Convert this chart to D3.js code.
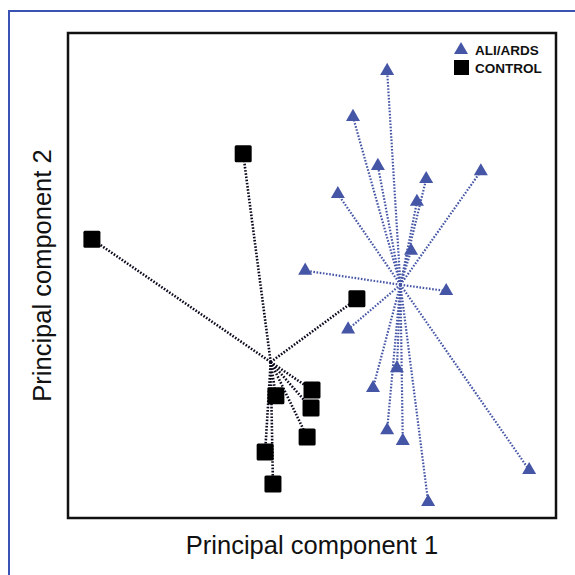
<!DOCTYPE html>
<html lang="en">
<head>
    <meta charset="UTF-8">
    <script src="https://d3js.org/d3.v7.min.js"></script>
    <title>PCA scores</title>
    <style>
        body { margin: 0; background: #fff; }
        svg { display: block; }
    </style>
</head>
<body>
    <figure style="margin:0"></figure>
    <script>
        // scores (arbitrary PC units, no ticks shown)
        const aliPc1 = [65.4, 58.4, 63.5, 73.4, 71.5, 84.6, 55.3, 70.3, 48.6, 77.5, 57.4, 67.4, 62.5, 65.4, 68.6, 94.5, 73.8];
        const aliPc2 = [92.2, 82.7, 72.6, 69.9, 65.2, 71.5, 66.8, 55.1, 51.0, 46.8, 38.9, 30.9, 26.8, 18.1, 15.9, 9.9, 3.3];
        const ctrlPc1 = [35.9, 4.9, 59.2, 50.0, 42.6, 49.8, 49.0, 40.4, 42.0];
        const ctrlPc2 = [75.1, 57.5, 45.2, 26.4, 25.2, 22.7, 16.7, 13.6, 7.0];
        const groups = ["ALI/ARDS", "CONTROL"];

        const w = 575;
        const h = 575;
        const box = {left: 68, top: 33, right: 556, bottom: 518};
        const blue = "#4656a6";
        const dark = "#0a0a1e";

        const svg = d3.select("figure")
            .append("svg")
            .attr("width", w)
            .attr("height", h);

        // outer blue frame
        svg.append("rect")
            .attr("x", 9).attr("y", 11)
            .attr("width", 600).attr("height", 600)
            .attr("fill", "none")
            .attr("stroke", "#3a52b4")
            .attr("stroke-width", 2);

        const xScale = d3.scaleLinear().domain([0, 100]).range([box.left, box.right]);
        const yScale = d3.scaleLinear().domain([0, 100]).range([box.bottom, box.top]);

        const ali = aliPc1.map((d, i) => [d, aliPc2[i]]);
        const ctrl = ctrlPc1.map((d, i) => [d, ctrlPc2[i]]);

        const aliC = [d3.mean(aliPc1), d3.mean(aliPc2)];
        const ctrlC = [d3.mean(ctrlPc1), d3.mean(ctrlPc2)];

        // spokes to group centroid
        function spokes(data, c, color, cls, width) {
            svg.selectAll("line." + cls)
                .data(data)
                .enter()
                .append("line")
                .attr("class", cls)
                .attr("x1", xScale(c[0]))
                .attr("y1", yScale(c[1]))
                .attr("x2", d => xScale(d[0]))
                .attr("y2", d => yScale(d[1]))
                .attr("stroke", color)
                .attr("stroke-width", width)
                .attr("stroke-dasharray", "1.6,1.6");
        }
        spokes(ali, aliC, blue, "ali", 2.2);
        spokes(ctrl, ctrlC, dark, "ctrl", 2.6);

        const tri = d3.symbol().type(d3.symbolTriangle).size(85);

        svg.selectAll("path.tri")
            .data(ali)
            .enter()
            .append("path")
            .attr("class", "tri")
            .attr("d", tri)
            .attr("transform", d => "translate(" + xScale(d[0]) + "," + yScale(d[1]) + ")")
            .attr("fill", blue);

        svg.selectAll("rect.sq")
            .data(ctrl)
            .enter()
            .append("rect")
            .attr("class", "sq")
            .attr("x", d => xScale(d[0]) - 8.5)
            .attr("y", d => yScale(d[1]) - 8.5)
            .attr("width", 17)
            .attr("height", 17)
            .attr("rx", 1.5)
            .attr("fill", "#000");

        // plot frame
        svg.append("rect")
            .attr("x", box.left).attr("y", box.top)
            .attr("width", box.right - box.left)
            .attr("height", box.bottom - box.top)
            .attr("fill", "none")
            .attr("stroke", "#111")
            .attr("stroke-width", 2.5);

        // legend
        const legend = svg.append("g").attr("transform", "translate(461,50)");
        legend.append("path")
            .attr("d", tri)
            .attr("fill", blue);
        legend.append("rect")
            .attr("x", -7).attr("y", 10)
            .attr("width", 15).attr("height", 15)
            .attr("fill", "#000");
        legend.selectAll("text")
            .data(groups)
            .enter()
            .append("text")
            .attr("x", 14)
            .attr("y", (d, i) => 5 + i * 18)
            .attr("font-family", "'Liberation Sans Narrow', 'Arial Narrow', sans-serif")
            .attr("font-weight", "bold")
            .attr("font-size", 13.5)
            .attr("fill", "#111")
            .text(d => d);

        // axis titles
        svg.append("text")
            .attr("x", (box.left + box.right) / 2)
            .attr("y", 554)
            .attr("text-anchor", "middle")
            .attr("font-family", "'Liberation Sans', Arial, sans-serif")
            .attr("font-size", 25.5)
            .attr("fill", "#111")
            .text("Principal component 1");

        svg.append("text")
            .attr("transform", "translate(51," + (box.top + box.bottom) / 2 + ") rotate(-90)")
            .attr("text-anchor", "middle")
            .attr("font-family", "'Liberation Sans', Arial, sans-serif")
            .attr("font-size", 25.5)
            .attr("fill", "#111")
            .text("Principal component 2");
    </script>
</body>
</html>
